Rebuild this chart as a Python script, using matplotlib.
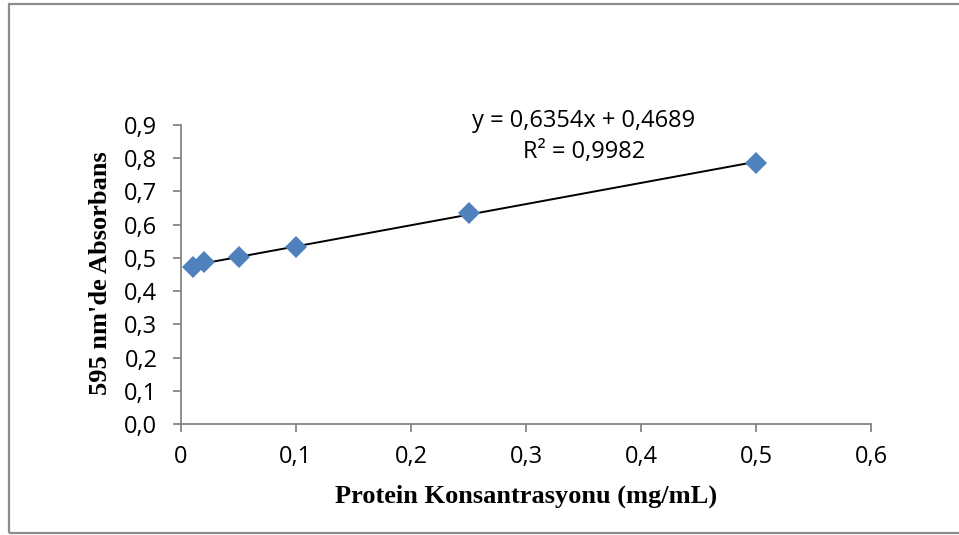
import numpy as np
import matplotlib as mpl
mpl.use("Agg")
import matplotlib.pyplot as plt
from matplotlib.patches import Rectangle
from matplotlib.ticker import FuncFormatter

# ── data ──
konsantrasyon = [0.01, 0.02, 0.05, 0.10, 0.25, 0.50]
absorbans = [0.472, 0.487, 0.503, 0.534, 0.635, 0.787]
x_ticks = [0, 0.1, 0.2, 0.3, 0.4, 0.5, 0.6]
y_ticks = [0.0, 0.1, 0.2, 0.3, 0.4, 0.5, 0.6, 0.7, 0.8, 0.9]

SANS = "Open Sans"
SERIF = "Liberation Serif"
GRAY = "#868686"
BLUE = "#4f81bd"

fig = plt.figure(figsize=(9.59, 5.35), dpi=100)
ax = fig.add_axes([181 / 959, 111 / 535, 690 / 959, 299 / 535])

# outer chart frame
fig.patches.append(Rectangle((8.5 / 959, 2 / 535), 1.2, 529.5 / 535,
                             transform=fig.transFigure, fill=False,
                             edgecolor="#8c8c8c", linewidth=1.6))

# linear fit (trendline over data range)
slope, intercept = np.polyfit(konsantrasyon, absorbans, 1)
xs = np.array([min(konsantrasyon), max(konsantrasyon)])
ax.plot(xs, slope * xs + intercept, color="black", linewidth=1.4, zorder=2)

ax.plot(konsantrasyon, absorbans, linestyle="none", marker="D",
        markersize=11, color=BLUE, markeredgewidth=0, zorder=3)

ax.set_xlim(0, 0.6)
ax.set_ylim(0, 0.9)
ax.set_xticks(x_ticks)
ax.set_yticks(y_ticks)
ax.xaxis.set_major_formatter(FuncFormatter(lambda v, p: "0" if v == 0 else f"{v:.1f}".replace(".", ",")))
ax.yaxis.set_major_formatter(FuncFormatter(lambda v, p: f"{v:.1f}".replace(".", ",")))

for s in ["top", "right"]:
    ax.spines[s].set_visible(False)
for s in ["left", "bottom"]:
    ax.spines[s].set_color(GRAY)
    ax.spines[s].set_linewidth(1.3)
ax.tick_params(axis="both", direction="out", length=6, width=1.3, color=GRAY,
               labelsize=17, labelcolor="black")
ax.tick_params(axis="y", pad=11)
ax.tick_params(axis="x", pad=9)
for lab in ax.get_xticklabels() + ax.get_yticklabels():
    lab.set_fontfamily(SANS)

ax.set_xlabel("Protein Konsantrasyonu (mg/mL)", fontfamily=SERIF,
              fontweight="bold", fontsize=19, va="center")
ax.set_ylabel("595 nm'de Absorbans", fontfamily=SERIF,
              fontweight="bold", fontsize=19, va="center")
ax.xaxis.set_label_coords(0.5, -0.241)
ax.yaxis.set_label_coords(-0.117, 0.505)

ax.text(0.584, 1.013, "y = 0,6354x + 0,4689", transform=ax.transAxes,
        ha="center", va="center", fontsize=17, fontfamily=SANS)
ax.text(0.584, 0.91, "R² = 0,9982", transform=ax.transAxes,
        ha="center", va="center", fontsize=17, fontfamily=SANS)

fig.savefig("out.png", dpi=100)
